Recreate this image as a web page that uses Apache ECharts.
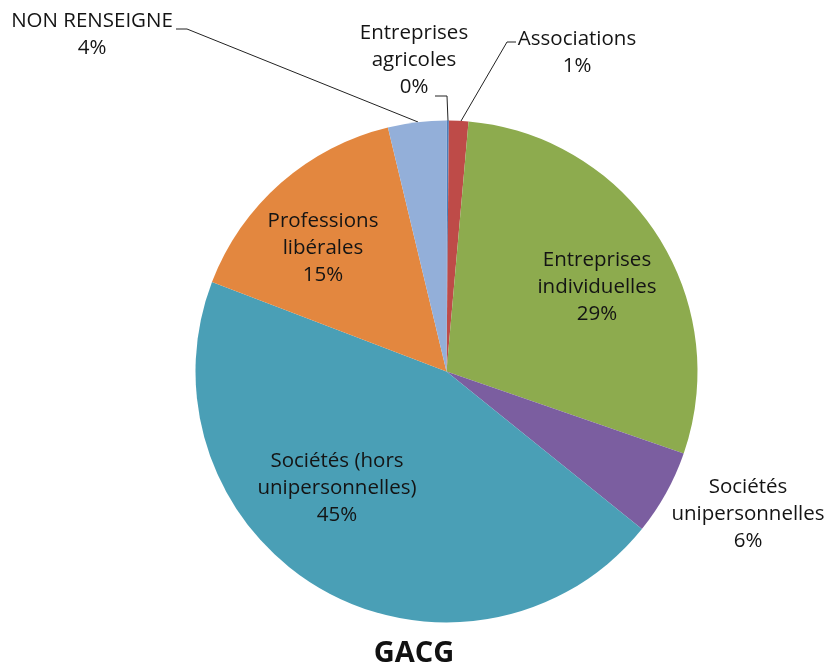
<!DOCTYPE html>
<html>
<head>
<meta charset="utf-8">
<script src="https://cdn.jsdelivr.net/npm/echarts@6/dist/echarts.min.js"></script>
<style>html,body{margin:0;padding:0;background:#fff;}#c{width:828px;height:668px;}</style>
</head>
<body>
<div id="c"></div>
<script>
var categories = ["Entreprises\nagricoles", "Associations", "Entreprises\nindividuelles", "Sociétés\nunipersonnelles", "Sociétés (hors\nunipersonnelles)", "Professions\nlibérales", "NON RENSEIGNE"];
var values = [0.15, 1.25, 28.9, 5.5, 45.0, 15.45, 3.75];
var colors = ["#4a7ebb", "#be4b48", "#8dab4e", "#7b5ea0", "#4a9fb6", "#e3873f", "#93afd9"];
var chartTitle = "GACG";

// label placement (style only)
var labelPos = [[414, 60], [577, 53], [597, 287], [748, 514], [337, 488], [323, 248], [92, 35]];
var linePts = [
  [[435, 96], [447, 96], [448, 121]],
  [[516, 42], [507, 42], [461, 121]],
  null, null, null, null,
  [[176, 29], [187, 29], [418, 122]]
];

var chart = echarts.init(document.getElementById('c'), null, {renderer: 'canvas'});
var data = categories.map(function (c, i) {
  return {
    name: c, value: values[i],
    itemStyle: {color: colors[i]},
    labelLine: {show: !!linePts[i]}
  };
});
chart.setOption({
  animation: false,
  title: {
    text: chartTitle, left: 'center', top: 634,
    textStyle: {fontFamily: 'Open Sans', fontWeight: 'bold', fontSize: 29, color: '#111'}
  },
  series: [{
    type: 'pie',
    center: [446.5, 371.5],
    radius: 251,
    startAngle: 90,
    clockwise: true,
    percentPrecision: 0,
    avoidLabelOverlap: false,
    itemStyle: {borderWidth: 0},
    emphasis: {disabled: true},
    label: {
      show: true, position: 'outside',
      formatter: '{b}\n{d}%',
      fontFamily: 'Open Sans', fontSize: 20.5, lineHeight: 27,
      color: '#141414', align: 'center'
    },
    labelLine: {show: true, lineStyle: {color: '#222', width: 1}},
    labelLayout: function (p) {
      var i = p.dataIndex;
      var o = {x: labelPos[i][0], y: labelPos[i][1], align: 'center', verticalAlign: 'middle'};
      if (linePts[i]) o.labelLinePoints = linePts[i];
      return o;
    },
    data: data
  }]
});
</script>
</body>
</html>
